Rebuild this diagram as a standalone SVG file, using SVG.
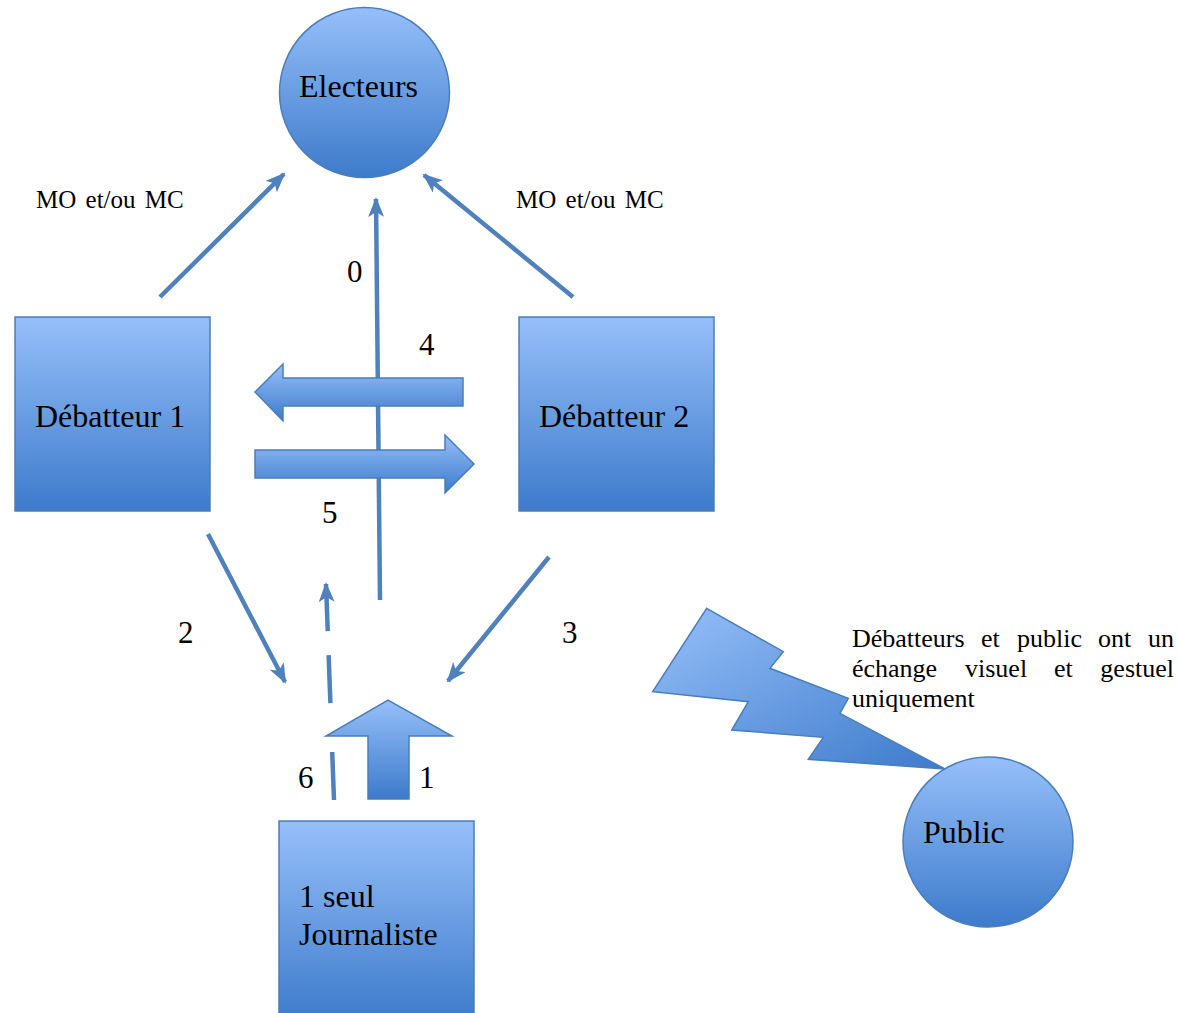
<svg xmlns="http://www.w3.org/2000/svg" width="1180" height="1013" viewBox="0 0 1180 1013">
<defs>
<linearGradient id="gv" x1="0" y1="0" x2="0" y2="1">
<stop offset="0" stop-color="#96bff9"/>
<stop offset="1" stop-color="#3d7bcb"/>
</linearGradient>
<linearGradient id="gd" x1="0" y1="0" x2="1" y2="1">
<stop offset="0" stop-color="#96bff9"/>
<stop offset="1" stop-color="#3d7bcb"/>
</linearGradient>
<marker id="ah" viewBox="0 0 20 16" refX="18" refY="8" markerWidth="20" markerHeight="16" markerUnits="userSpaceOnUse" orient="auto">
<path d="M0,0 L20,8 L0,16 L5,8 z" fill="#4f81bd"/>
</marker>
</defs>
<style>
.shape{fill:url(#gv);stroke:#4a7ebb;stroke-width:1.5}
.bolt{fill:url(#gd);stroke:#4a7ebb;stroke-width:1.5}
.ln{fill:none;stroke:#4f81bd;stroke-width:4.5;marker-end:url(#ah)}
.lbl{font-family:"Liberation Serif","Times New Roman",serif;font-size:32px;fill:#000}
.sm{font-family:"Liberation Serif","Times New Roman",serif;font-size:26px;fill:#000}
.mo{font-family:"Liberation Serif","Times New Roman",serif;font-size:25px;fill:#000;word-spacing:3px}
.num{font-family:"Liberation Serif","Times New Roman",serif;font-size:31px;fill:#000}
</style>
<g id="connectors">
<line class="ln" x1="160" y1="297" x2="284" y2="174"/>
<line class="ln" x1="573" y1="297" x2="424" y2="175"/>
<line class="ln" x1="380" y1="600" x2="376" y2="199"/>
<line class="ln" x1="208" y1="534" x2="285" y2="682"/>
<line class="ln" x1="549" y1="557" x2="448" y2="681"/>
<line class="ln" x1="334" y1="800" x2="326" y2="584" stroke-dasharray="48 49 48 24 70"/>
<path id="arrow4" class="shape" d="M463,378 L283,378 L283,364 L255,392 L283,421 L283,406 L463,406 Z"/>
<path id="arrow5" class="shape" d="M255,450 L445,450 L445,435 L474,464 L445,493 L445,478 L255,478 Z"/>
<path id="arrow1" class="shape" d="M368,799 L368,736 L326,736 L388,700 L452,736 L409,736 L409,799 Z"/>
<path id="bolt" class="bolt" d="M706.7,608.3 L783.3,651.7 L770,668.3 L848.3,698.3 L840,713.3 L945,769 L808.3,759.3 L823.3,737.3 L731.7,730 L748.3,701.7 L652.7,691.7 Z"/>
</g>
<g id="electeurs">
<circle class="shape" cx="364.5" cy="92.5" r="85"/>
<text class="lbl" x="299" y="97">Electeurs</text>
</g>
<g id="debatteur1">
<rect class="shape" x="15" y="317" width="195" height="194"/>
<text class="lbl" x="35" y="427">Débatteur 1</text>
</g>
<g id="debatteur2">
<rect class="shape" x="519" y="317" width="195" height="194"/>
<text class="lbl" x="539" y="427">Débatteur 2</text>
</g>
<g id="journaliste">
<rect class="shape" x="279" y="821" width="195" height="200"/>
<text class="lbl" x="299" y="907">1 seul</text>
<text class="lbl" x="299" y="945">Journaliste</text>
</g>
<g id="public">
<circle class="shape" cx="988" cy="842" r="85"/>
<text class="lbl" x="923" y="843">Public</text>
</g>
<g id="labels">
<text class="mo" x="36" y="208">MO et/ou MC</text>
<text class="mo" x="516" y="208">MO et/ou MC</text>
<text class="num" x="347" y="282">0</text>
<text class="num" x="419" y="355">4</text>
<text class="num" x="322" y="523">5</text>
<text class="num" x="178" y="643">2</text>
<text class="num" x="562" y="643">3</text>
<text class="num" x="298" y="788">6</text>
<text class="num" x="419" y="788">1</text>
<text class="sm" x="852" y="647">Débatteurs</text>
<text class="sm" x="981" y="647">et</text>
<text class="sm" x="1017" y="647">public</text>
<text class="sm" x="1098" y="647">ont</text>
<text class="sm" x="1174" y="647" text-anchor="end">un</text>
<text class="sm" x="852" y="677">échange</text>
<text class="sm" x="965" y="677">visuel</text>
<text class="sm" x="1054" y="677">et</text>
<text class="sm" x="1174" y="677" text-anchor="end">gestuel</text>
<text class="sm" x="852" y="707">uniquement</text>
</g>
</svg>
